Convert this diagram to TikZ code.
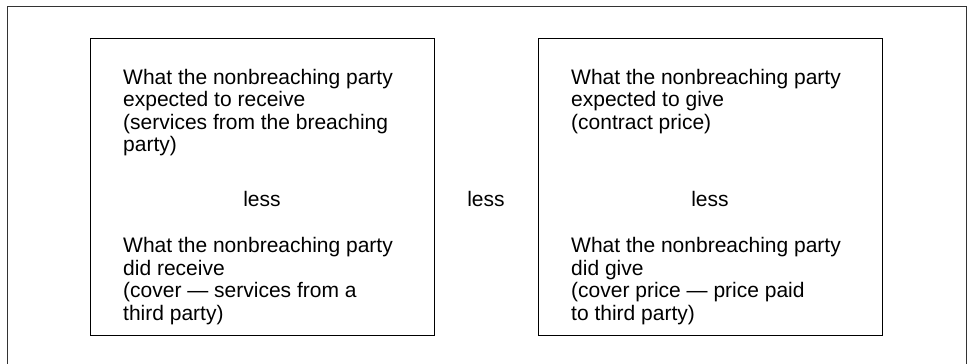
\documentclass[tikz,border=0pt]{standalone}
\usepackage{fontspec}
\setmainfont{Liberation Sans}
\usepackage{tikz}

\begin{document}
\begin{tikzpicture}[x=1pt,y=1pt,
        every node/.style={font=\fontsize{21}{22.5}\selectfont},
        box/.style={draw,line width=1pt,minimum width=344pt,minimum height=297pt,inner sep=0pt},
        para/.style={align=left,anchor=north west,inner sep=0pt},
        word/.style={anchor=base,inner sep=0pt}]
        \useasboundingbox (0,0) rectangle (970,364);
        % outer frame, open at the bottom
        \draw [line width=1pt,black!80] (7,0) -- (7,357) -- (966,357) -- (966,0);
        % the two boxes
        \node [box] (recv) at (262,176.5) {};
        \node [box] (give) at (710,176.5) {};
        % left box
        \node [para] (recvtop) at (123,295) {What the nonbreaching party\\expected to receive\\(services from the breaching\\party)};
        \node [word] (recvless) at (262,157) {less};
        \node [para] (recvbot) at (123,126.5) {What the nonbreaching party\\did receive\\(cover --- services from a\\third party)};
        % between the boxes
        \node [word] (midless) at (486,157) {less};
        % right box
        \node [para] (givetop) at (571,295) {What the nonbreaching party\\expected to give\\(contract price)};
        \node [word] (giveless) at (710,157) {less};
        \node [para] (givebot) at (571,126.5) {What the nonbreaching party\\did give\\(cover price --- price paid\\to third party)};
    \end{tikzpicture}
\end{document}
